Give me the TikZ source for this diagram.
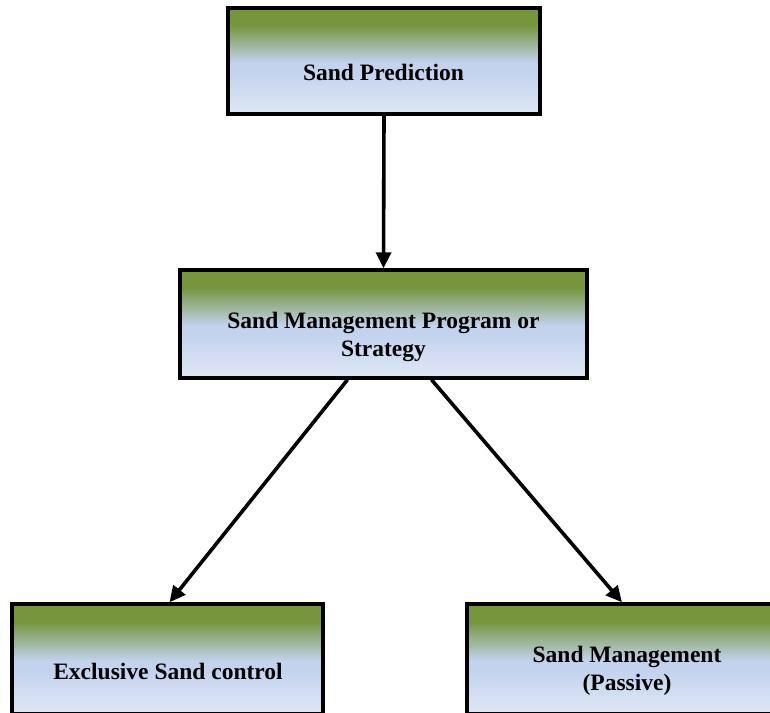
\documentclass[tikz,border=0pt]{standalone}
\usepackage{fontspec}
\setmainfont{Liberation Serif}
\usetikzlibrary{arrows.meta,calc}

\definecolor{boxgreen}{HTML}{76953D}
\definecolor{boxblue}{HTML}{C3D3EE}
\definecolor{boxpale}{HTML}{DFE7F4}

% olive at the top, fading to blue, paler towards the bottom
\pgfdeclareverticalshading{boxfade}{100bp}{%
  color(0bp)=(boxpale); color(25bp)=(boxpale);
  color(45bp)=(boxblue); color(49bp)=(boxblue);
  color(67bp)=(boxgreen); color(75bp)=(boxgreen);
  color(100bp)=(boxgreen)}

\tikzset{
  stagebox/.style={draw=black, line width=3.4pt, shading=boxfade,
    rectangle, inner sep=0pt},
  stagetext/.style={font=\fontsize{23.5}{28}\selectfont\bfseries,
    align=center, inner sep=0pt, text=black},
  flow/.style={line width=3.6pt, -{Triangle[length=16pt,width=15pt]}}
}

\begin{document}
\begin{tikzpicture}[x=1pt,y=-1pt]
  \useasboundingbox (0,0) rectangle (770,712);
  \clip (0,0) rectangle (770,712);

  % boxes
  \node[stagebox, minimum width=312pt, minimum height=106pt] (pred) at (384,61) {};
  \node[stagebox, minimum width=407pt, minimum height=108pt] (prog) at (383.5,324) {};
  \node[stagebox, minimum width=311pt, minimum height=110pt] (excl) at (167.5,659) {};
  \node[stagebox, minimum width=316pt, minimum height=110pt] (pass) at (625,659) {};

  % labels
  \node[stagetext] (tpred) at (383.5,72) {Sand Prediction};
  \node[stagetext] (tprog) at (383.5,337) {Sand Management Program or\\Strategy};
  \node[stagetext] (texcl) at (168,671) {Exclusive Sand control};
  \node[stagetext] (tpass) at (627,671) {Sand Management\\(Passive)};

  % connectors
  \draw[flow] (pred.south) -- (prog.north);
  \draw[flow] ($(prog.south)+(-36,0)$) -- ($(excl.north)+(2,0)$);
  \draw[flow] ($(prog.south)+(48,0)$) -- ($(pass.north)+(-3,0)$);
\end{tikzpicture}
\end{document}
